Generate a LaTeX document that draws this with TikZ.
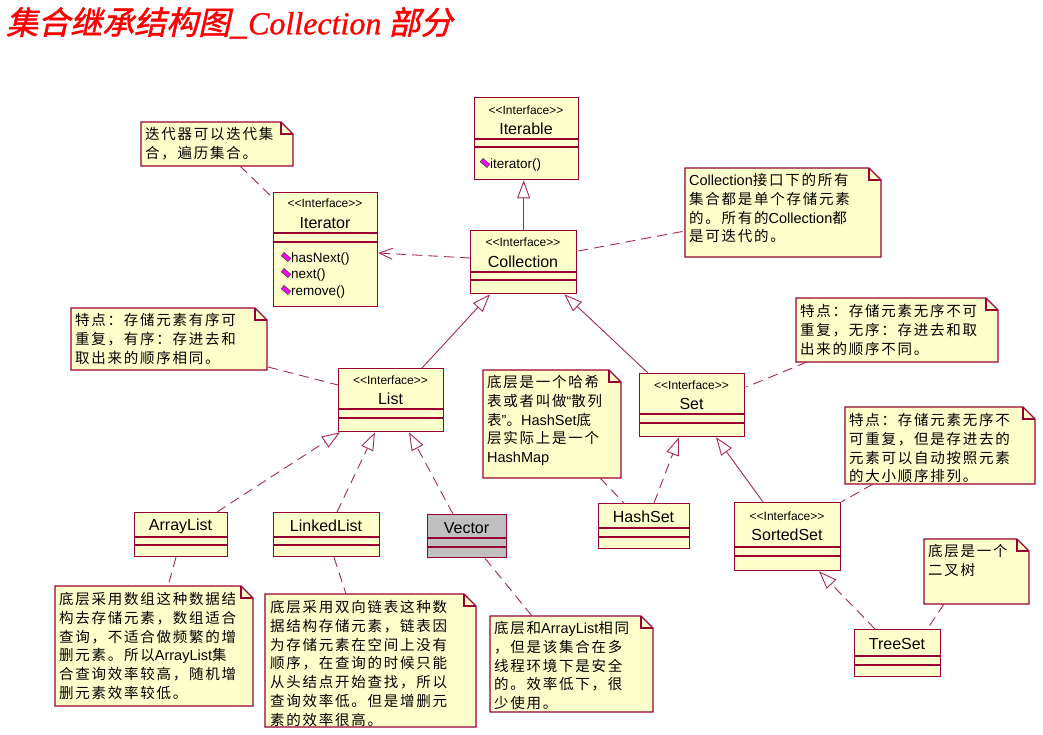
\documentclass[tikz,border=0pt]{standalone}
\usepackage{fontspec}
\setmainfont{Liberation Sans}
\newfontfamily\cjk[LetterSpace=12]{Noto Sans CJK SC}
\newfontfamily\lat{Liberation Sans}
\newfontfamily\titlecjk[FakeSlant=0.22,FakeBold=1.5]{Noto Sans CJK SC}
\newfontfamily\titlelat[FakeBold=0.8]{Liberation Serif}
\usetikzlibrary{arrows.meta,calc}

\definecolor{umlline}{RGB}{153,0,51}
\definecolor{umlfill}{RGB}{255,255,204}
\definecolor{vecfill}{RGB}{192,192,192}
\definecolor{conn}{RGB}{165,40,90}
\definecolor{iconfill}{RGB}{255,0,255}
\definecolor{iconedge}{RGB}{40,80,40}

\newcommand\stereo{<\kern0pt<Interface>\kern0pt>}
\newcommand\notefold[1]{%
  \path[noteshape] (#1.north west) -- ($(#1.north east)+(-12,0)$) -- ($(#1.north east)+(0,12)$) -- (#1.south east) -- (#1.south west) -- cycle;
  \draw[noteshape, fill=none] ($(#1.north east)+(-12,0)$) -- ($(#1.north east)+(-12,12)$) -- ($(#1.north east)+(0,12)$);}
\newcommand\micon[2]{%
  \filldraw[fill=iconfill, draw=iconedge, line width=0.5pt, rotate around={-40:(#1,#2)}] ($(#1,#2)+(-4.5,-2.2)$) rectangle ($(#1,#2)+(4.5,2.2)$);}

\tikzset{
  cls/.style={draw=umlline, fill=umlfill, line width=1.3pt, inner sep=0pt, anchor=north west},
  ster/.style={font=\fontsize{12}{12}\selectfont, inner sep=0pt},
  cname/.style={font=\fontsize{16}{16}\selectfont, inner sep=0pt},
  meth/.style={font=\fontsize{13.5}{13.5}\selectfont, inner sep=0pt, anchor=west},
  sep/.style={draw=umlline, line width=1.1pt},
  notebg/.style={inner sep=0pt, outer sep=0pt, anchor=north west},
  noteshape/.style={draw=umlline, fill=umlfill, line width=1.1pt, line join=miter},
  notetext/.style={inner sep=0pt, anchor=north west, align=left, font=\cjk\fontsize{14.5}{18.8}\selectfont},
  solidgen/.style={draw=conn, line width=0.9pt, -{Triangle[open, length=18pt, width=13pt, fill=white]}},
  dashgen/.style={solidgen, dash pattern=on 10pt off 6pt},
  depend/.style={draw=conn, line width=0.9pt, dash pattern=on 10pt off 6pt, -{Straight Barb[length=13pt, width=11pt]}},
  anchorline/.style={draw=conn, line width=0.9pt, dash pattern=on 10pt off 6pt},
}

\begin{document}
\begin{tikzpicture}[x=1pt, y=-1pt]
\fill[white] (0,0) rectangle (1043,735);
\useasboundingbox (0,0) rectangle (1043,735);

% title
\node[anchor=west, text=red, inner sep=0pt] (title) at (6,23)
  {\titlecjk\fontsize{32}{32}\selectfont 集合继承结构图\_{\titlelat\itshape Collection} 部分};

% ---------- classes ----------
% Iterable
\node[cls, minimum width=104pt, minimum height=82pt] (iterable) at (474,97) {};
\node[ster] (iterable-st) at (526,110) {\stereo};
\node[cname] (iterable-nm) at (526,129) {Iterable};
\draw[sep] ($(iterable.north west)+(0,42)$) -- ($(iterable.north east)+(0,42)$);
\draw[sep] ($(iterable.north west)+(0,50)$) -- ($(iterable.north east)+(0,50)$);
\micon{485}{163}
\node[meth] (iterable-m1) at (490,165) {iterator()};

% Iterator
\node[cls, minimum width=104pt, minimum height=114pt] (iterator) at (273,192) {};
\node[ster] (iterator-st) at (325,203) {\stereo};
\node[cname] (iterator-nm) at (325,223) {Iterator};
\draw[sep] ($(iterator.north west)+(0,41)$) -- ($(iterator.north east)+(0,41)$);
\draw[sep] ($(iterator.north west)+(0,50)$) -- ($(iterator.north east)+(0,50)$);
\micon{286}{257}
\node[meth] (iterator-m1) at (291,259) {hasNext()};
\micon{286}{273}
\node[meth] (iterator-m2) at (291,275) {next()};
\micon{286}{290}
\node[meth] (iterator-m3) at (291,292) {remove()};

% Collection
\node[cls, minimum width=106pt, minimum height=63pt] (collection) at (470,230) {};
\node[ster] (collection-st) at (523,242) {\stereo};
\node[cname] (collection-nm) at (523,262) {Collection};
\draw[sep] ($(collection.north west)+(0,42)$) -- ($(collection.north east)+(0,42)$);
\draw[sep] ($(collection.north west)+(0,50)$) -- ($(collection.north east)+(0,50)$);

% List
\node[cls, minimum width=105pt, minimum height=63pt] (list) at (338,368) {};
\node[ster] (list-st) at (390.5,380) {\stereo};
\node[cname] (list-nm) at (390.5,399) {List};
\draw[sep] ($(list.north west)+(0,41)$) -- ($(list.north east)+(0,41)$);
\draw[sep] ($(list.north west)+(0,50)$) -- ($(list.north east)+(0,50)$);

% Set
\node[cls, minimum width=105pt, minimum height=63pt] (set) at (639,373) {};
\node[ster] (set-st) at (691.5,385) {\stereo};
\node[cname] (set-nm) at (691.5,404) {Set};
\draw[sep] ($(set.north west)+(0,41)$) -- ($(set.north east)+(0,41)$);
\draw[sep] ($(set.north west)+(0,50)$) -- ($(set.north east)+(0,50)$);

% ArrayList
\node[cls, minimum width=93pt, minimum height=44pt] (arraylist) at (134,512) {};
\node[cname] (arraylist-nm) at (180.5,526) {ArrayList};
\draw[sep] ($(arraylist.north west)+(0,25)$) -- ($(arraylist.north east)+(0,25)$);
\draw[sep] ($(arraylist.north west)+(0,33)$) -- ($(arraylist.north east)+(0,33)$);

% LinkedList
\node[cls, minimum width=106pt, minimum height=44pt] (linkedlist) at (273,512) {};
\node[cname] (linkedlist-nm) at (326,526) {LinkedList};
\draw[sep] ($(linkedlist.north west)+(0,25)$) -- ($(linkedlist.north east)+(0,25)$);
\draw[sep] ($(linkedlist.north west)+(0,33)$) -- ($(linkedlist.north east)+(0,33)$);

% Vector
\node[cls, fill=vecfill, minimum width=79pt, minimum height=43pt] (vector) at (427,514) {};
\node[cname] (vector-nm) at (466.5,528) {Vector};
\draw[sep] ($(vector.north west)+(0,24)$) -- ($(vector.north east)+(0,24)$);
\draw[sep] ($(vector.north west)+(0,33)$) -- ($(vector.north east)+(0,33)$);

% HashSet
\node[cls, minimum width=91pt, minimum height=45pt] (hashset) at (598,503) {};
\node[cname] (hashset-nm) at (643.5,517) {HashSet};
\draw[sep] ($(hashset.north west)+(0,25)$) -- ($(hashset.north east)+(0,25)$);
\draw[sep] ($(hashset.north west)+(0,34)$) -- ($(hashset.north east)+(0,34)$);

% SortedSet
\node[cls, minimum width=106pt, minimum height=68pt] (sortedset) at (734,502) {};
\node[ster] (sortedset-st) at (787,516) {\stereo};
\node[cname] (sortedset-nm) at (787,535) {SortedSet};
\draw[sep] ($(sortedset.north west)+(0,45)$) -- ($(sortedset.north east)+(0,45)$);
\draw[sep] ($(sortedset.north west)+(0,54)$) -- ($(sortedset.north east)+(0,54)$);

% TreeSet
\node[cls, minimum width=86pt, minimum height=47pt] (treeset) at (854,629) {};
\node[cname] (treeset-nm) at (897,644) {TreeSet};
\draw[sep] ($(treeset.north west)+(0,27)$) -- ($(treeset.north east)+(0,27)$);
\draw[sep] ($(treeset.north west)+(0,36)$) -- ($(treeset.north east)+(0,36)$);

% ---------- notes ----------
\node[notebg, minimum width=152pt, minimum height=44pt] (inote) at (141,122) {};
\notefold{inote}
\node[notetext] (inote-t) at (145,127) {迭代器可以迭代集\\合，遍历集合。};

\node[notebg, minimum width=196pt, minimum height=89pt] (cnote) at (685,168) {};
\notefold{cnote}
\node[notetext] (cnote-t) at (689,173) {{\lat Collection}接口下的所有\\集合都是单个存储元素\\的。所有的{\lat Collection}都\\是可迭代的。};

\node[notebg, minimum width=196pt, minimum height=62pt] (lnote) at (71,308) {};
\notefold{lnote}
\node[notetext] (lnote-t) at (75,313) {特点：存储元素有序可\\重复，有序：存进去和\\取出来的顺序相同。};

\node[notebg, minimum width=202pt, minimum height=64pt] (snote) at (796,298) {};
\notefold{snote}
\node[notetext] (snote-t) at (800,304) {特点：存储元素无序不可\\重复，无序：存进去和取\\出来的顺序不同。};

\node[notebg, minimum width=138pt, minimum height=108pt] (hnote) at (483,370) {};
\notefold{hnote}
\node[notetext] (hnote-t) at (487,375) {底层是一个哈希\\表或者叫做{\lat “}散列\\表{\lat ”}。{\lat HashSet}底\\层实际上是一个\\{\lat HashMap}};

\node[notebg, minimum width=190pt, minimum height=77pt] (ssnote) at (845,407) {};
\notefold{ssnote}
\node[notetext] (ssnote-t) at (849,413) {特点：存储元素无序不\\可重复，但是存进去的\\元素可以自动按照元素\\的大小顺序排列。};

\node[notebg, minimum width=105pt, minimum height=65pt] (tnote) at (924,539) {};
\notefold{tnote}
\node[notetext] (tnote-t) at (928,544) {底层是一个\\二叉树};

\node[notebg, minimum width=198pt, minimum height=120pt] (anote) at (55,586) {};
\notefold{anote}
\node[notetext] (anote-t) at (59,592) {底层采用数组这种数据结\\构去存储元素，数组适合\\查询，不适合做频繁的增\\删元素。所以{\lat ArrayList}集\\合查询效率较高，随机增\\删元素效率较低。};

\node[notebg, minimum width=211pt, minimum height=133pt] (lknote) at (265,594) {};
\notefold{lknote}
\node[notetext] (lknote-t) at (270,600) {底层采用双向链表这种数\\据结构存储元素，链表因\\为存储元素在空间上没有\\顺序，在查询的时候只能\\从头结点开始查找，所以\\查询效率低。但是增删元\\素的效率很高。};

\node[notebg, minimum width=163pt, minimum height=96pt] (vnote) at (490,616) {};
\notefold{vnote}
\node[notetext] (vnote-t) at (494,621) {底层和{\lat ArrayList}相同\\，但是该集合在多\\线程环境下是安全\\的。效率低下，很\\少使用。};

% ---------- connectors ----------
\draw[solidgen] (collection.north) -- (collection.north |- iterable.south);
\draw[depend] ($(collection.north west)+(0,28)$) -- ($(iterator.north east)+(0,61)$);
\draw[anchorline] ($(inote.south west)+(99,0)$) -- ($(iterator.north west)+(0,6)$);
\draw[anchorline] ($(collection.north east)+(1,21)$) -- ($(cnote.north west)+(0,63)$);
\draw[solidgen] ($(list.north west)+(84,0)$) -- ($(collection.south west)+(20,0)$);
\draw[solidgen] ($(set.north west)+(9,0)$) -- ($(collection.south east)+(-13,0)$);
\draw[anchorline] ($(lnote.south east)+(1,-3)$) -- ($(list.north west)+(0,17)$);
\draw[anchorline] ($(snote.south west)+(11,0)$) -- ($(set.north east)+(1,14)$);
\draw[dashgen] ($(arraylist.north west)+(83,0)$) -- ($(list.south west)+(2,0)$);
\draw[dashgen] ($(linkedlist.north west)+(64,0)$) -- ($(list.south west)+(37,0)$);
\draw[dashgen] ($(vector.north west)+(26,0)$) -- ($(list.south west)+(71,0)$);
\draw[dashgen] ($(hashset.north west)+(56,0)$) -- ($(set.south west)+(40,0)$);
\draw[anchorline] ($(hnote.south west)+(117,0)$) -- ($(hashset.north west)+(26,0)$);
\draw[solidgen] ($(sortedset.north west)+(29,0)$) -- ($(set.south west)+(77,0)$);
\draw[anchorline] ($(ssnote.south west)+(28,0)$) -- (sortedset.north east);
\draw[dashgen] ($(treeset.north west)+(21,0)$) -- ($(sortedset.south west)+(85,0)$);
\draw[anchorline] ($(tnote.south west)+(20,0)$) -- ($(treeset.north east)+(-14,0)$);
\draw[anchorline] ($(arraylist.south west)+(42,0)$) -- ($(anote.north west)+(113,0)$);
\draw[anchorline] ($(linkedlist.south west)+(61,0)$) -- ($(lknote.north west)+(81,0)$);
\draw[anchorline] ($(vector.south west)+(58,0)$) -- ($(vnote.north west)+(42,0)$);
\end{tikzpicture}
\end{document}
